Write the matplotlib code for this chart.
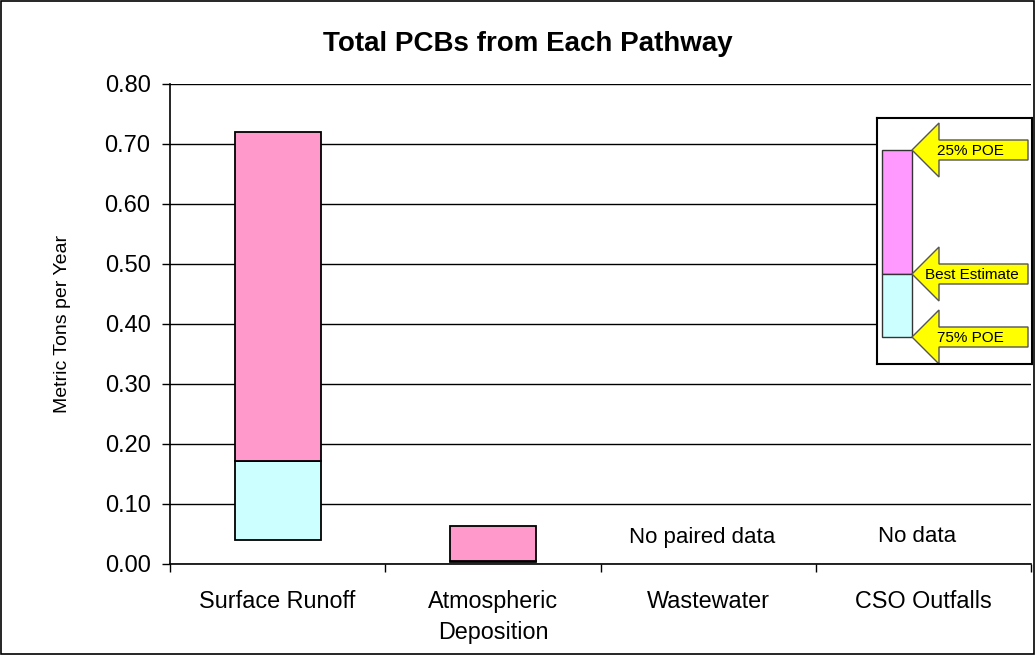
import matplotlib.pyplot as plt
from matplotlib.patches import Polygon, Rectangle

plt.rcParams['font.family'] = ['Liberation Sans', 'DejaVu Sans']

# Data (metric tons per year)
categories = ['Surface Runoff', 'Atmospheric\nDeposition', 'Wastewater', 'CSO Outfalls']
low_75 = [0.04, 0.003, None, None]
best = [0.171, 0.005, None, None]
high_25 = [0.72, 0.064, None, None]
notes = ['', '', 'No paired data', 'No data']
yticks = [0.0, 0.1, 0.2, 0.3, 0.4, 0.5, 0.6, 0.7, 0.8]

pink = '#FF99CC'
cyan = '#CCFFFF'

fig = plt.figure(figsize=(10.36, 6.55), dpi=100)
ax = fig.add_axes([170 / 1036, 1 - 564 / 655, 861 / 1036, 480 / 655])

xs = list(range(len(categories)))
for i in xs:
    if best[i] is None:
        ax.text(i - 0.03, 0.045, notes[i], ha='center', va='center', fontsize=16)
        continue
    ax.bar(i, best[i] - low_75[i], bottom=low_75[i], width=0.4, color=cyan,
           edgecolor='black', linewidth=1.3, zorder=3)
    ax.bar(i, high_25[i] - best[i], bottom=best[i], width=0.4, color=pink,
           edgecolor='black', linewidth=1.3, zorder=3)

ax.set_xlim(-0.5, len(categories) - 0.5)
ax.set_ylim(0, 0.8)
ax.set_yticks(yticks)
ax.set_yticklabels([f'{v:.2f}' for v in yticks], fontsize=17)
ax.set_xticks(xs)
ax.set_xticklabels(categories, fontsize=16.8, linespacing=1.45, va='top')
ax.tick_params(axis='x', length=0, pad=19)
ax.set_xticks([x - 0.5 for x in range(len(categories) + 1)], minor=True)
ax.tick_params(axis='x', which='minor', length=6, direction='out', width=1)
ax.tick_params(axis='y', length=6, direction='out', width=1, pad=8)
ax.yaxis.grid(True, color='black', linewidth=1)
ax.set_axisbelow(True)
for s in ['top', 'right']:
    ax.spines[s].set_visible(False)
ax.spines['left'].set_linewidth(1.2)
ax.spines['bottom'].set_linewidth(1.2)
ax.set_ylabel('Metric Tons per Year', fontsize=14, labelpad=24)

fig.text(528 / 1036, 1 - 44 / 655, 'Total PCBs from Each Pathway', ha='center',
         va='center', fontsize=20, fontweight='bold')

# outer border
fig.add_artist(Rectangle((0.001, 0.001), 0.997, 0.997, transform=fig.transFigure,
                         fill=False, edgecolor='black', linewidth=1.2))

# legend inset (drawn in pixel coordinates)
lg = fig.add_axes([877 / 1036, 1 - 364 / 655, 155 / 1036, 246 / 655])
lg.set_xlim(877, 1032)
lg.set_ylim(364, 118)
lg.set_xticks([])
lg.set_yticks([])
lg.set_facecolor('white')
for s in lg.spines.values():
    s.set_linewidth(1.5)
lg.add_patch(Rectangle((882, 150), 30, 124, facecolor='#FF99FF', edgecolor='#333333', linewidth=1))
lg.add_patch(Rectangle((882, 274), 30, 63, facecolor=cyan, edgecolor='#333333', linewidth=1))
for y, label, tx in [(150, '25% POE', 937), (274, 'Best Estimate', 925), (337, '75% POE', 937)]:
    x0 = 912
    pts = [(x0, y), (x0 + 27, y - 27), (x0 + 27, y - 10), (1028, y - 10),
           (1028, y + 10), (x0 + 27, y + 10), (x0 + 27, y + 27)]
    lg.add_patch(Polygon(pts, closed=True, facecolor='#FFFF00', edgecolor='#555555', linewidth=1))
    lg.text(tx, y + 1, label, fontsize=11, va='center', ha='left')

fig.savefig('out.png', dpi=100)
